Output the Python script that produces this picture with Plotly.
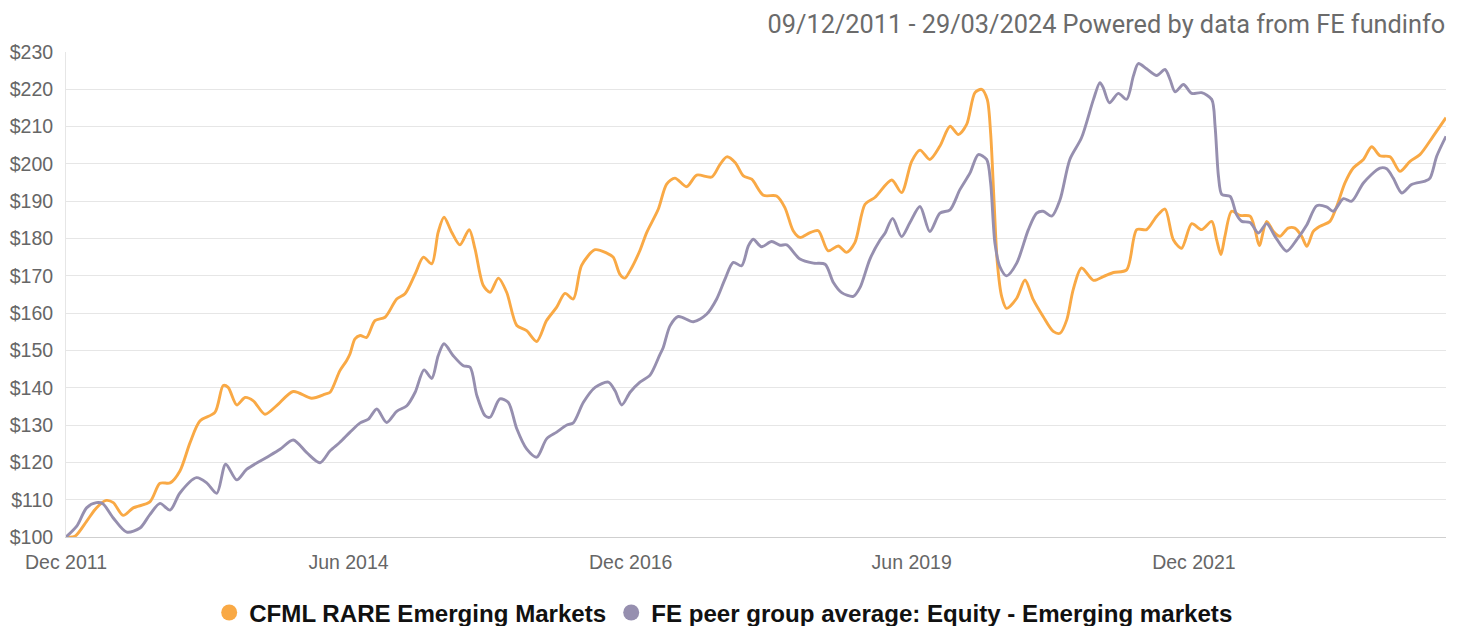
import plotly.graph_objects as go

# ---- data ----
fund_name = "CFML RARE Emerging Markets"
peer_name = "FE peer group average: Equity - Emerging markets"

fund_dates = [
    "2011-12-09", "2012-01-07", "2012-02-14", "2012-03-17", "2012-04-18", "2012-05-11", "2012-06-12",
    "2012-07-15", "2012-09-07", "2012-10-10", "2012-11-12", "2012-12-14", "2013-01-16", "2013-02-17",
    "2013-04-07", "2013-05-04", "2013-05-20", "2013-06-17", "2013-07-14", "2013-08-10", "2013-09-17",
    "2013-10-25", "2013-12-18", "2014-02-16", "2014-04-01", "2014-04-17", "2014-05-19", "2014-06-10",
    "2014-06-21", "2014-07-07", "2014-07-24", "2014-08-14", "2014-09-10", "2014-10-13", "2014-11-20",
    "2014-12-17", "2015-01-19", "2015-02-15", "2015-03-14", "2015-04-04", "2015-04-23", "2015-05-18",
    "2015-06-14", "2015-07-14", "2015-08-02", "2015-08-29", "2015-09-20", "2015-10-17", "2015-11-13",
    "2015-12-16", "2016-01-17", "2016-02-19", "2016-03-22", "2016-04-24", "2016-05-21", "2016-06-17",
    "2016-07-14", "2016-08-27", "2016-10-04", "2016-10-25", "2016-11-16", "2016-12-02", "2016-12-19",
    "2017-01-20", "2017-02-11", "2017-03-21", "2017-04-17", "2017-05-14", "2017-06-21", "2017-07-24",
    "2017-09-11", "2017-10-08", "2017-10-30", "2017-11-26", "2017-12-23", "2018-01-19", "2018-02-26",
    "2018-04-10", "2018-05-07", "2018-06-03", "2018-06-25", "2018-07-28", "2018-08-24", "2018-09-25",
    "2018-10-28", "2018-11-24", "2018-12-21", "2019-01-23", "2019-02-24", "2019-04-20", "2019-05-22",
    "2019-06-24", "2019-07-21", "2019-08-22", "2019-09-24", "2019-10-27", "2019-11-23", "2019-12-20",
    "2020-01-16", "2020-02-07", "2020-02-25", "2020-03-07", "2020-03-18", "2020-03-29", "2020-04-12",
    "2020-04-28", "2020-05-31", "2020-06-27", "2020-07-24", "2020-08-25", "2020-09-27", "2020-10-19",
    "2020-11-10", "2020-12-01", "2020-12-28", "2021-02-05", "2021-03-09", "2021-04-11", "2021-05-24",
    "2021-06-26", "2021-07-28", "2021-08-30", "2021-09-26", "2021-10-23", "2021-11-19", "2021-12-22",
    "2022-01-23", "2022-02-25", "2022-03-13", "2022-03-27", "2022-04-09", "2022-05-01", "2022-05-28",
    "2022-06-30", "2022-07-16", "2022-07-30", "2022-08-23", "2022-09-14", "2022-10-05", "2022-11-01",
    "2022-11-23", "2022-12-15", "2023-01-01", "2023-01-22", "2023-02-13", "2023-03-17", "2023-04-08",
    "2023-05-05", "2023-06-01", "2023-07-04", "2023-07-31", "2023-08-27", "2023-09-29", "2023-10-31",
    "2023-12-03", "2024-01-04", "2024-02-16", "2024-03-29",
]
fund_values = [
    100.0, 100.2, 104.2, 107.8, 109.8, 109.2, 105.8,
    107.8, 109.4, 114.4, 114.5, 117.7, 125.3, 131.1,
    133.4, 140.6, 140.1, 135.4, 137.4, 136.5, 132.9,
    135.2, 139.0, 137.2, 138.3, 138.8, 144.6, 147.3,
    149.1, 153.1, 154.0, 153.5, 158.0, 158.9, 163.8,
    165.2, 170.5, 175.0, 173.2, 181.7, 185.7, 181.7,
    178.3, 182.4, 177.2, 167.4, 165.6, 169.4, 165.6,
    156.7, 155.3, 152.4, 158.0, 161.6, 165.3, 163.8,
    172.8, 177.0, 176.1, 175.0, 170.4, 169.4, 171.4,
    176.8, 181.6, 187.9, 194.6, 196.2, 193.9, 197.0,
    196.5, 199.9, 201.9, 200.4, 196.8, 195.9, 191.6,
    191.4, 188.3, 182.1, 180.3, 181.6, 182.1, 176.7,
    178.0, 176.3, 178.9, 189.2, 191.0, 195.7, 192.3,
    200.7, 203.7, 201.2, 204.8, 210.1, 207.9, 210.6,
    219.1, 220.0, 217.3, 208.3, 190.4, 173.4, 164.5,
    161.3, 164.0, 168.9, 163.6, 159.1, 155.1, 154.6,
    158.2, 166.3, 172.1, 168.8, 169.8, 170.9, 171.6,
    182.4, 182.4, 186.0, 187.9, 179.7, 177.4, 184.0,
    182.4, 184.6, 179.7, 175.7, 180.6, 187.3, 186.2,
    186.0, 182.4, 178.1, 184.6, 181.9, 180.6, 182.8,
    182.8, 180.6, 177.9, 181.9, 183.3, 184.6, 188.6,
    194.9, 198.9, 201.2, 204.6, 202.2, 201.9, 198.0,
    200.7, 202.5, 207.4, 212.4,
]

peer_dates = [
    "2011-12-09", "2012-01-13", "2012-02-14", "2012-03-17", "2012-04-07", "2012-05-11", "2012-06-24",
    "2012-08-06", "2012-09-07", "2012-10-10", "2012-11-12", "2012-12-14", "2013-02-06", "2013-03-11",
    "2013-04-13", "2013-05-12", "2013-06-17", "2013-07-19", "2013-09-22", "2013-11-05", "2013-12-18",
    "2014-01-31", "2014-03-15", "2014-04-17", "2014-05-19", "2014-06-21", "2014-07-24", "2014-08-20",
    "2014-09-16", "2014-10-18", "2014-11-20", "2014-12-23", "2015-01-19", "2015-02-17", "2015-03-14",
    "2015-04-04", "2015-04-23", "2015-05-23", "2015-06-25", "2015-07-17", "2015-08-08", "2015-09-04",
    "2015-09-20", "2015-10-22", "2015-11-18", "2015-12-16", "2016-01-17", "2016-02-19", "2016-03-22",
    "2016-04-24", "2016-05-27", "2016-06-17", "2016-07-20", "2016-08-27", "2016-10-09", "2016-10-31",
    "2016-11-22", "2016-12-19", "2017-01-20", "2017-02-22", "2017-03-26", "2017-04-06", "2017-04-28",
    "2017-05-25", "2017-07-13", "2017-08-25", "2017-09-27", "2017-10-24", "2017-11-20", "2017-12-17",
    "2018-01-08", "2018-01-24", "2018-02-20", "2018-03-25", "2018-04-21", "2018-05-13", "2018-06-25",
    "2018-08-08", "2018-09-15", "2018-10-12", "2018-11-08", "2018-12-16", "2019-01-07", "2019-02-08",
    "2019-03-13", "2019-03-29", "2019-04-23", "2019-05-22", "2019-06-18", "2019-07-21", "2019-08-22",
    "2019-09-24", "2019-10-27", "2019-11-28", "2019-12-31", "2020-01-27", "2020-02-23", "2020-03-07",
    "2020-03-21", "2020-04-06", "2020-04-28", "2020-05-31", "2020-07-08", "2020-08-04", "2020-08-25",
    "2020-09-22", "2020-10-19", "2020-11-20", "2020-12-28", "2021-02-05", "2021-02-26", "2021-03-09",
    "2021-03-29", "2021-04-27", "2021-05-24", "2021-06-15", "2021-07-01", "2021-07-28", "2021-08-30",
    "2021-09-26", "2021-10-12", "2021-10-29", "2021-11-25", "2021-12-22", "2022-01-23", "2022-02-25",
    "2022-03-08", "2022-03-19", "2022-03-30", "2022-04-26", "2022-05-17", "2022-06-03", "2022-06-30",
    "2022-07-27", "2022-08-23", "2022-09-19", "2022-10-27", "2022-11-29", "2023-01-01", "2023-02-02",
    "2023-03-06", "2023-03-28", "2023-04-30", "2023-05-27", "2023-07-04", "2023-08-27", "2023-09-18",
    "2023-10-09", "2023-11-06", "2023-12-08", "2024-01-21", "2024-02-06", "2024-02-28", "2024-03-29",
]
peer_values = [
    100.0, 102.9, 107.8, 109.2, 108.9, 105.1, 101.3,
    102.4, 106.0, 109.0, 107.2, 111.8, 115.9, 114.5,
    111.7, 119.5, 115.3, 118.1, 121.3, 123.5, 126.0,
    122.6, 119.9, 123.1, 125.4, 128.1, 130.6, 131.6,
    134.3, 130.7, 133.7, 135.2, 138.8, 144.8, 142.5,
    148.6, 151.8, 148.6, 145.9, 145.5, 137.9, 132.5,
    132.1, 137.0, 136.1, 129.0, 123.6, 121.4, 126.3,
    128.1, 130.0, 130.6, 136.1, 140.1, 141.5, 139.2,
    135.4, 138.8, 141.5, 143.4, 148.9, 150.8, 156.6,
    159.1, 157.7, 159.7, 163.8, 169.1, 173.6, 172.7,
    178.0, 179.8, 177.8, 179.2, 178.2, 178.3, 174.5,
    173.4, 173.1, 168.2, 165.5, 164.5, 166.9, 174.5,
    179.6, 181.4, 185.4, 180.5, 184.2, 188.6, 181.9,
    186.8, 187.7, 193.1, 197.6, 202.5, 201.2, 194.9,
    178.8, 172.5, 170.0, 173.4, 182.4, 186.8, 187.3,
    186.0, 190.4, 201.2, 207.0, 217.3, 221.8, 220.4,
    216.4, 218.9, 217.3, 223.6, 226.9, 225.5, 223.7,
    225.3, 222.7, 219.3, 221.3, 218.9, 219.1, 217.3,
    210.1, 196.7, 191.8, 191.3, 186.4, 184.6, 184.3,
    181.5, 184.0, 180.6, 176.6, 179.7, 183.7, 188.8,
    188.5, 187.3, 190.7, 190.0, 194.9, 198.9, 198.7,
    196.2, 192.2, 194.5, 195.4, 196.2, 202.1, 207.4,
]

x_tick_dates = ["2011-12-09", "2014-06-16", "2016-12-21", "2019-06-24", "2021-12-29"]
x_tick_labels = ["Dec 2011", "Jun 2014", "Dec 2016", "Jun 2019", "Dec 2021"]
y_tick_values = list(range(100, 231, 10))
y_tick_labels = [f"${v}" for v in y_tick_values]

title_text = "09/12/2011 - 29/03/2024 Powered by data from FE fundinfo"
x_start, x_end = "2011-12-09", "2024-03-29"

fund_color = "#F9A945"
peer_color = "#968FAF"

fig = go.Figure()
fig.add_trace(go.Scatter(
    x=fund_dates, y=fund_values, mode="lines", name=fund_name, showlegend=False,
    line=dict(color=fund_color, width=2.9, shape="spline", smoothing=0.8),
))
fig.add_trace(go.Scatter(
    x=peer_dates, y=peer_values, mode="lines", name=peer_name, showlegend=False,
    line=dict(color=peer_color, width=2.9, shape="spline", smoothing=0.8),
))
# legend entries with round symbols
for nm, col in [(fund_name, fund_color), (peer_name, peer_color)]:
    fig.add_trace(go.Scatter(
        x=[None], y=[None], mode="markers", name=nm, showlegend=True,
        marker=dict(color=col, size=20, symbol="circle"),
    ))

fig.update_layout(
    width=1462, height=626,
    margin=dict(l=66, r=16, t=52, b=89, autoexpand=False),
    paper_bgcolor="white", plot_bgcolor="white",
    title=dict(
        text=title_text, x=0.9885, xanchor="right", xref="container",
        y=0.962, yanchor="middle", yref="container",
        font=dict(family="Roboto", size=25.3, color="#6b6b6b"),
    ),
    legend=dict(
        orientation="h", x=0.495, xanchor="center", xref="container",
        y=0.021, yanchor="middle", yref="container",
        font=dict(family="Liberation Sans", size=24.1, color="#111111", weight="bold"),
        itemsizing="trace", itemwidth=30, tracegroupgap=0,
    ),
    xaxis=dict(
        type="date", range=[x_start, x_end], automargin=False,
        tickmode="array", tickvals=x_tick_dates, ticktext=x_tick_labels,
        showgrid=False, zeroline=False,
        showline=True, linecolor="#cfcfcf", linewidth=1,
        ticks="", tickfont=dict(family="Liberation Sans", size=19.5, color="#666666"),
        ticklabelstandoff=8,
    ),
    yaxis=dict(
        range=[100, 230], automargin=False,
        tickmode="array", tickvals=y_tick_values, ticktext=y_tick_labels,
        showgrid=True, gridcolor="#e6e6e6", gridwidth=1, zeroline=False,
        showline=True, linecolor="#e6e6e6", linewidth=1,
        ticks="", tickfont=dict(family="Liberation Sans", size=19.5, color="#666666"),
        ticklabelstandoff=8,
    ),
)

fig.write_html(
    "out.html",
    config={"displayModeBar": False},
    post_script="document.body.style.margin='0';document.body.style.overflow='hidden';",
)
